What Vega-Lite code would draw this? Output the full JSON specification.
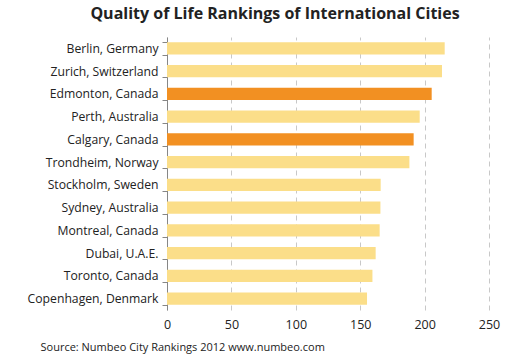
{
  "$schema": "https://vega.github.io/schema/vega-lite/v6.json",
  "width": 322,
  "height": 273,
  "autosize": {"type": "none"},
  "padding": {"left": 167, "top": 37, "right": 30, "bottom": 46},
  "background": "white",
  "title": {
    "text": "Quality of Life Rankings of International Cities",
    "font": "Open Sans",
    "fontSize": 16,
    "fontWeight": "bold",
    "color": "#222222",
    "anchor": "middle",
    "dx": -53,
    "offset": 9
  },
  "data": {
    "values": [
      {"city": "Berlin, Germany", "score": 215.6, "group": "other"},
      {"city": "Zurich, Switzerland", "score": 213.5, "group": "other"},
      {"city": "Edmonton, Canada", "score": 205.5, "group": "highlight"},
      {"city": "Perth, Australia", "score": 196.2, "group": "other"},
      {"city": "Calgary, Canada", "score": 191.5, "group": "highlight"},
      {"city": "Trondheim, Norway", "score": 188.2, "group": "other"},
      {"city": "Stockholm, Sweden", "score": 165.9, "group": "other"},
      {"city": "Sydney, Australia", "score": 165.7, "group": "other"},
      {"city": "Montreal, Canada", "score": 165.1, "group": "other"},
      {"city": "Dubai, U.A.E.", "score": 162.0, "group": "other"},
      {"city": "Toronto, Canada", "score": 159.5, "group": "other"},
      {"city": "Copenhagen, Denmark", "score": 155.3, "group": "other"}
    ]
  },
  "mark": {"type": "bar"},
  "encoding": {
    "y": {
      "field": "city",
      "type": "nominal",
      "sort": null,
      "scale": {"paddingInner": 0.46, "paddingOuter": 0.23},
      "axis": {
        "title": null,
        "tickBand": "extent",
        "domainColor": "#868686",
        "tickColor": "#868686",
        "tickSize": 5,
        "labelFont": "Open Sans",
        "labelFontSize": 12.2,
        "labelColor": "#222222",
        "labelPadding": 4,
        "grid": false
      }
    },
    "x": {
      "field": "score",
      "type": "quantitative",
      "scale": {"domain": [0, 250], "nice": false},
      "axis": {
        "values": [0, 50, 100, 150, 200, 250],
        "domain": false,
        "ticks": false,
        "grid": true,
        "gridColor": "#c8c8c8",
        "gridDash": [5, 4],
        "labelFlush": false,
        "labelFont": "Open Sans",
        "labelFontSize": 12.5,
        "labelColor": "#222222",
        "labelPadding": 8,
        "title": "Source:  Numbeo City Rankings 2012 www.numbeo.com",
        "titleFont": "Open Sans",
        "titleFontSize": 11,
        "titleFontWeight": "normal",
        "titleColor": "#222222",
        "titleAnchor": "start",
        "titleAlign": "left",
        "titleX": -127,
        "titleY": 40,
        "titleBaseline": "alphabetic"
      }
    },
    "color": {
      "field": "group",
      "type": "nominal",
      "scale": {"domain": ["other", "highlight"], "range": ["#FBDE89", "#F29022"]},
      "legend": null
    }
  },
  "config": {"view": {"stroke": null}}
}
